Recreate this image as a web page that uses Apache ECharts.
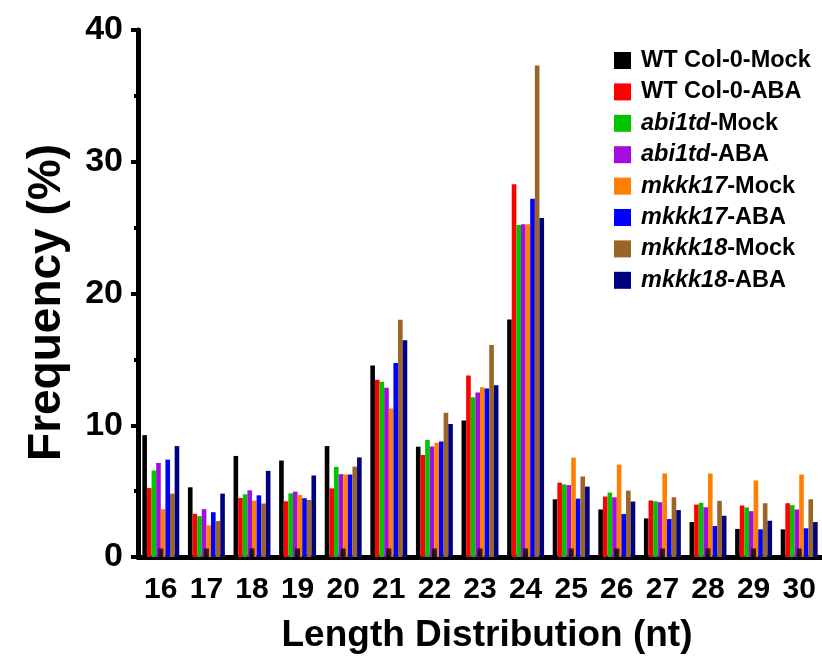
<!DOCTYPE html>
<html>
<head>
<meta charset="utf-8">
<script src="https://cdn.jsdelivr.net/npm/echarts@6/dist/echarts.min.js"></script>
<style>html,body{margin:0;padding:0;background:#fff}#c{width:822px;height:659px}</style>
</head>
<body>
<div id="c"></div>
<script>
const categories = ['16','17','18','19','20','21','22','23','24','25','26','27','28','29','30'];
const seriesNames = ['WT Col-0-Mock','WT Col-0-ABA','abi1td-Mock','abi1td-ABA','mkkk17-Mock','mkkk17-ABA','mkkk18-Mock','mkkk18-ABA'];
const seriesColors = ['#000000','#ff0000','#00c400','#a40de0','#ff8000','#0000ff','#9a6526','#000080'];
const wtMock    = [9.25,5.29,7.67,7.32,8.42,14.53,8.37,10.37,18.02,4.38,3.61,2.93,2.65,2.13,2.10];
const wtAba     = [5.23,3.28,4.48,4.23,5.21,13.46,7.74,13.78,28.29,5.64,4.59,4.29,3.98,3.91,4.08];
const abiMock   = [6.56,3.10,4.76,4.83,6.84,13.30,8.89,12.13,25.19,5.51,4.89,4.23,4.11,3.76,3.93];
const abiAba    = [7.14,3.63,5.06,4.96,6.29,12.85,8.39,12.48,25.26,5.46,4.53,4.16,3.78,3.48,3.61];
const mkkk17Mock= [3.63,2.40,4.28,4.71,6.26,11.27,8.67,12.88,25.26,7.54,7.01,6.34,6.34,5.81,6.26];
const mkkk17Aba = [7.39,3.40,4.68,4.46,6.26,14.73,8.77,12.78,27.19,4.43,3.26,2.88,2.35,2.10,2.18];
const mkkk18Mock= [4.81,2.73,4.06,4.33,6.86,18.00,10.95,16.09,37.30,6.11,5.04,4.53,4.26,4.08,4.38];
const mkkk18Aba = [8.42,4.81,6.54,6.19,7.56,16.46,10.10,13.03,25.74,5.34,4.21,3.56,3.13,2.75,2.65];
const allValues = [wtMock,wtAba,abiMock,abiAba,mkkk17Mock,mkkk17Aba,mkkk18Mock,mkkk18Aba];

const FONT = '"Liberation Sans", Arial, sans-serif';
const LFS = 23.5;
const chart = echarts.init(document.getElementById('c'), null, {renderer:'canvas'});
const series = seriesNames.map((n,i)=>({
  name:n, type:'bar', data:allValues[i],
  itemStyle:{color:seriesColors[i]},
  barGap:'0%', barCategoryGap:'19%'
}));
// inner half of the x-axis tick marks, drawn over the bars
series.push({
  name:'tick', type:'scatter', z:10, silent:true,
  data:categories.map(c=>[c,0]),
  symbol:'rect', symbolSize:[5,9], symbolOffset:[0,-4],
  itemStyle:{color:'#000'}
});
chart.setOption({
  animation:false,
  backgroundColor:'#ffffff',
  textStyle:{fontFamily:FONT},
  grid:{left:138,right:0,top:30,bottom:97,containLabel:false},
  legend:{
    orient:'vertical', left:614, top:48.5, padding:0, itemWidth:17, itemHeight:17, itemGap:7.4,
    icon:'rect', data:seriesNames,
    textStyle:{fontFamily:FONT,fontWeight:'bold',fontSize:LFS,color:'#000',lineHeight:24,
      rich:{i:{fontFamily:FONT,fontWeight:'bold',fontStyle:'italic',fontSize:LFS,color:'#000',lineHeight:24},
            n:{fontFamily:FONT,fontWeight:'bold',fontSize:LFS,color:'#000',lineHeight:24},
            s:{width:5,lineHeight:24}}},
    formatter:function(name){
      if(name.indexOf('WT')===0) return '{s|}{n|'+name+'}';
      const k = name.lastIndexOf('-');
      return '{s|}{i|'+name.slice(0,k)+'}{n|'+name.slice(k)+'}';
    }
  },
  xAxis:{
    type:'category', data:categories, boundaryGap:true,
    name:'Length Distribution (nt)', nameLocation:'middle', nameGap:60,
    nameTextStyle:{fontFamily:FONT,fontWeight:'bold',fontSize:37,color:'#000',padding:[0,0,0,14]},
    axisLine:{lineStyle:{color:'#000',width:5}},
    axisTick:{alignWithLabel:true,length:9,lineStyle:{color:'#000',width:5}},
    axisLabel:{fontFamily:FONT,fontWeight:'bold',fontSize:30,color:'#000',margin:18}
  },
  yAxis:{
    type:'value', min:0, max:40, interval:10,
    name:'Frequency (%)', nameLocation:'middle', nameGap:68,
    nameTextStyle:{fontFamily:FONT,fontWeight:'bold',fontSize:46,color:'#000',padding:[0,18,0,0]},
    axisLine:{show:true,lineStyle:{color:'#000',width:5}},
    axisTick:{show:true,length:7,lineStyle:{color:'#000',width:4}},
    minorTick:{show:true,splitNumber:2,length:4,lineStyle:{color:'#000',width:4}},
    splitLine:{show:false},
    axisLabel:{fontFamily:FONT,fontWeight:'bold',fontSize:34,color:'#000',margin:15}
  },
  series:series
});
</script>
</body>
</html>
